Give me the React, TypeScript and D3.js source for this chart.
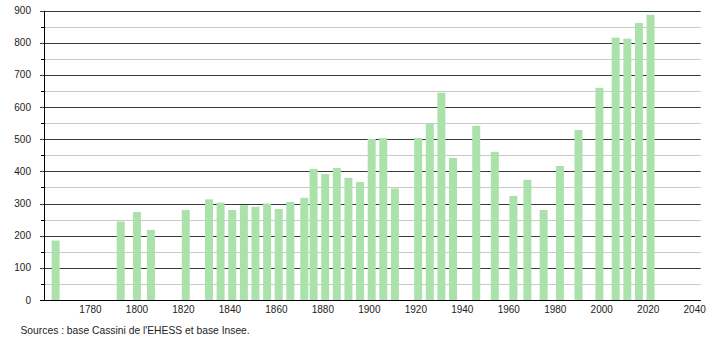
import React from "react";
import * as d3 from "d3";

const years = [1765, 1793, 1800, 1806, 1821, 1831, 1836, 1841, 1846, 1851, 1856, 1861, 1866, 1872, 1876, 1881, 1886, 1891, 1896, 1901, 1906, 1911, 1921, 1926, 1931, 1936, 1946, 1954, 1962, 1968, 1975, 1982, 1990, 1999, 2006, 2011, 2016, 2021];
const population = [185, 244, 274, 218, 280, 313, 303, 280, 295, 290, 300, 283, 305, 318, 408, 392, 411, 380, 367, 501, 504, 347, 504, 548, 645, 442, 542, 461, 324, 374, 280, 417, 529, 660, 816, 813, 862, 887];
const xTickLabels = [1780, 1800, 1820, 1840, 1860, 1880, 1900, 1920, 1940, 1960, 1980, 2000, 2020, 2040];
const yMajorTicks = [0, 100, 200, 300, 400, 500, 600, 700, 800, 900];
const yMinorTicks = [50, 150, 250, 350, 450, 550, 650, 750, 850];
const sourceText = "Sources : base Cassini de l'EHESS et base Insee.";

const W = 710;
const H = 340;
const left = 44;
const right = 700.7;
const bottom = 300;
const top = 10.7;

export default function App() {
  const x = d3.scaleLinear().domain([1760, 2040]).range([left, 694.7]);
  const y = d3.scaleLinear().domain([0, 900]).range([bottom, top]);
  const barW = 8;
  const font = "'Liberation Sans', Arial, sans-serif";
  return (
    <svg
      width={W}
      height={H}
      style={{ position: "absolute", left: 0, top: 0, background: "#fff" }}
      fontFamily={font}
    >
      {yMinorTicks.map((t) => (
        <g key={"m" + t}>
          <line x1={left} x2={right} y1={Math.round(y(t)) + 0.5} y2={Math.round(y(t)) + 0.5} stroke="#c8c8c8" strokeWidth={1} />
          <line x1={left - 3} x2={left} y1={Math.round(y(t)) + 0.5} y2={Math.round(y(t)) + 0.5} stroke="#000" strokeWidth={1} />
        </g>
      ))}
      {yMajorTicks.map((t) => (
        <g key={"M" + t}>
          <line x1={left - 4} x2={right} y1={Math.round(y(t)) + 0.5} y2={Math.round(y(t)) + 0.5} stroke={t === 0 ? "#000" : "#3a3a3a"} strokeWidth={1} />
          <text x={31} y={y(t)} dy="0.35em" textAnchor="end" fontSize={10} fill="#222">
            {t}
          </text>
        </g>
      ))}
      {years.map((yr, i) => (
        <rect
          key={yr}
          x={x(yr) - barW / 2}
          y={y(population[i])}
          width={barW}
          height={bottom - y(population[i])}
          fill="#abe2ab"
        />
      ))}
      <line x1={left - 4} x2={right} y1={bottom + 0.5} y2={bottom + 0.5} stroke="#000" strokeWidth={1} />
      <line x1={left + 0.5} x2={left + 0.5} y1={top} y2={bottom} stroke="#000" strokeWidth={1} />
      {xTickLabels.map((t) => (
        <text key={t} x={x(t)} y={309} dy="0.35em" textAnchor="middle" fontSize={10} fill="#222">
          {t}
        </text>
      ))}
      <text x={20.5} y={330} dy="0.35em" fontSize={10.3} fill="#222">
        {sourceText}
      </text>
    </svg>
  );
}
